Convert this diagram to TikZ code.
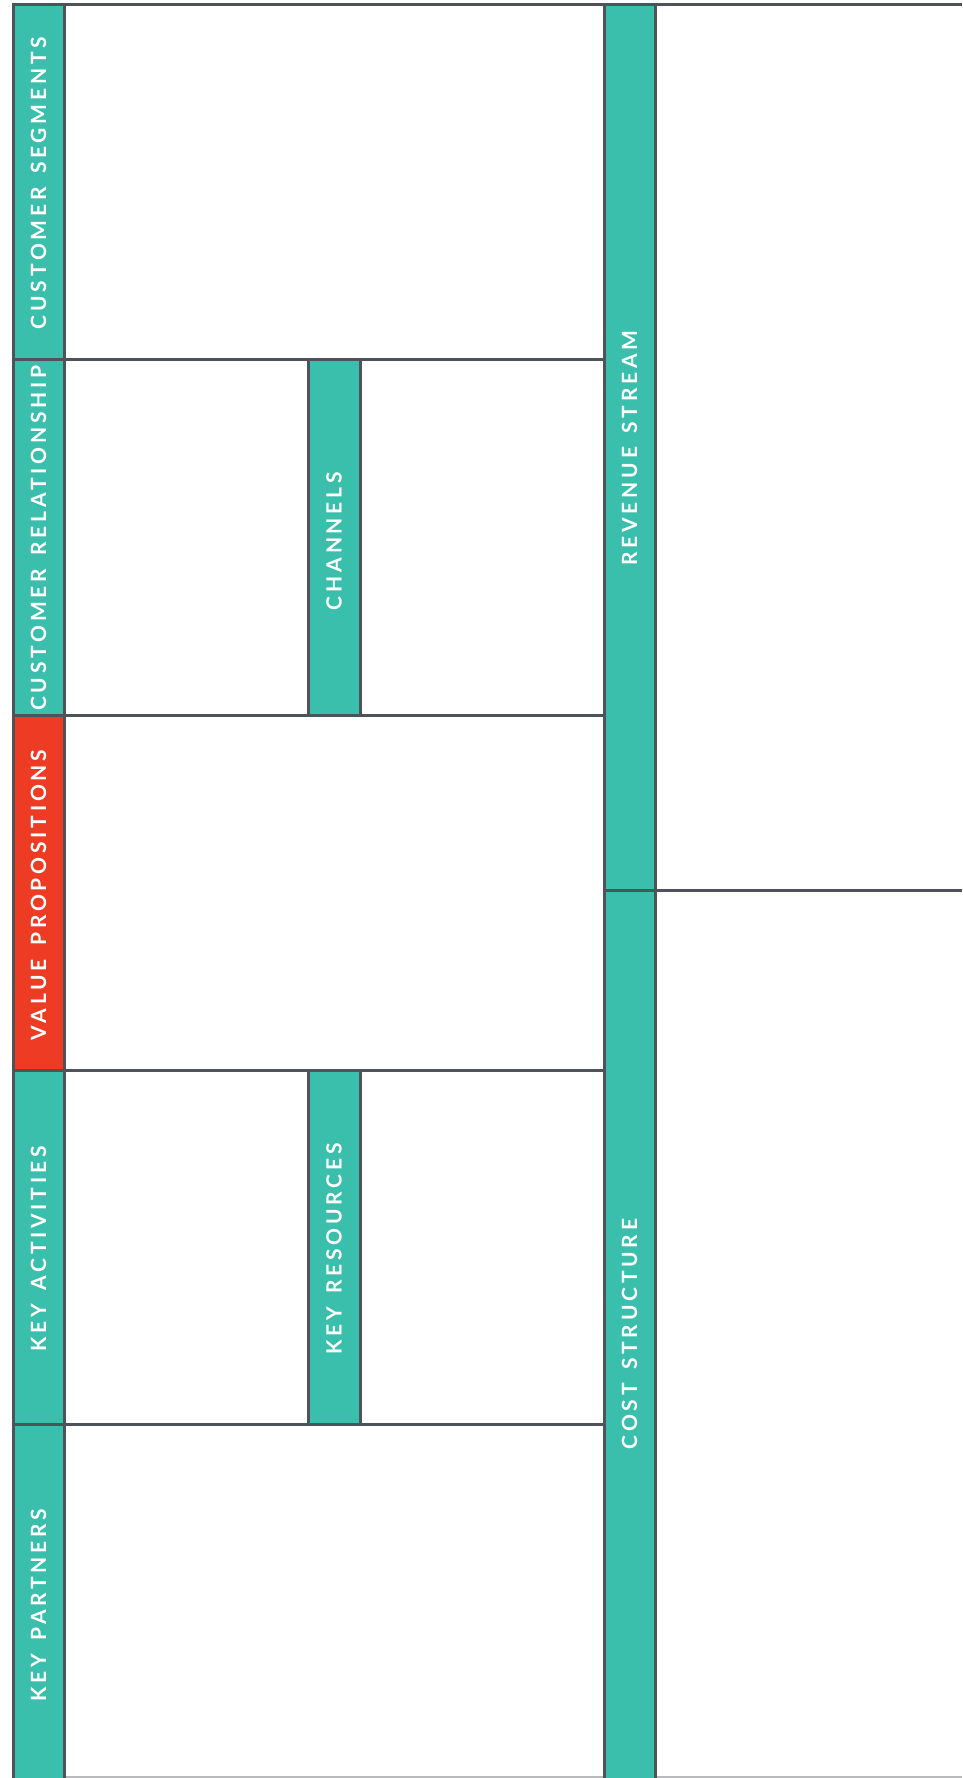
\documentclass[tikz,border=0pt]{standalone}
\usepackage{fontspec}
\newfontfamily\canvasfont{Lato}[LetterSpace=18, WordSpace=1.5]
\usepackage{xcolor}
\definecolor{canvasteal}{HTML}{3BBFAD}
\definecolor{canvasred}{HTML}{EE3B24}
\definecolor{canvasframe}{HTML}{4D5358}
\usepackage{tikz}
\usetikzlibrary{positioning}

\tikzset{
  frameline/.style={draw=canvasframe, line width=3pt},
  bar/.style={fill=canvasteal, draw=canvasframe, line width=3pt},
  barlabel/.style={rotate=90, text=white, inner sep=0pt,
    font=\canvasfont\bfseries\fontsize{21}{25}\selectfont},
}

\begin{document}
\begin{tikzpicture}[x=1pt,y=-1pt]
  \useasboundingbox[fill=white] (0,0) rectangle (962,1778);
  % frame
  \draw[frameline] (12,4) -- (962,4);
  \draw[canvasframe!40, line width=1.5pt] (12,1777) -- (962,1777);
  % left label bars
  \draw[bar] (13,4) rectangle (64,359);
  \draw[bar] (13,359) rectangle (64,715);
  \draw[bar, fill=canvasred] (13,715) rectangle (64,1070);
  \draw[bar] (13,1070) rectangle (64,1424);
  \draw[bar] (13,1424) rectangle (64,1780);
  % row dividers
  \foreach \y in {359,715,1070,1424}
    \draw[frameline] (64,\y) -- (604,\y);
  % inner bars
  \draw[bar] (308,359) rectangle (360,715);
  \draw[bar] (308,1070) rectangle (360,1424);
  % right bar
  \draw[bar] (604,4) rectangle (655,890);
  \draw[bar] (604,890) rectangle (655,1780);
  \draw[frameline] (655,890) -- (962,890);
  % labels
  \node[barlabel] (segments) at (38.5,183) {CUSTOMER SEGMENTS};
  \node[barlabel] (relationship) at (38.5,538) {CUSTOMER RELATIONSHIP};
  \node[barlabel] (propositions) at (38.5,895) {VALUE PROPOSITIONS};
  \node[barlabel] (activities) at (38.5,1249) {KEY ACTIVITIES};
  \node[barlabel] (partners) at (38.5,1605) {KEY PARTNERS};
  \node[barlabel] (channels) at (334,541) {CHANNELS};
  \node[barlabel] (resources) at (334,1249) {KEY RESOURCES};
  \node[barlabel] (revenue) at (629.5,448) {REVENUE STREAM};
  \node[barlabel] (cost) at (629.5,1334) {COST STRUCTURE};
\end{tikzpicture}
\end{document}
